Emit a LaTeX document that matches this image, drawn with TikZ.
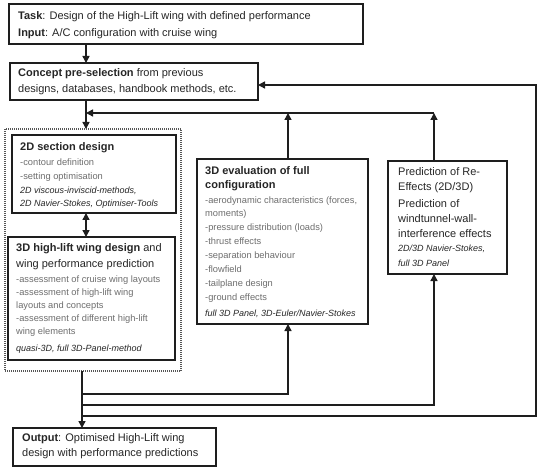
\documentclass[tikz,border=0pt]{standalone}
\usepackage{fontspec}
\setmainfont{Liberation Sans}
\usetikzlibrary{arrows.meta,calc}
\definecolor{txt}{HTML}{262626}
\definecolor{sub}{HTML}{6E6E6E}
\definecolor{lin}{HTML}{1E1E1E}
\begin{document}
\begin{tikzpicture}[x=1pt,y=-1pt,
  box/.style={draw=lin, line width=1.4pt, inner sep=0pt, outer sep=0pt, anchor=north west},
  grp/.style={draw=lin!75, line width=1.6pt, dash pattern=on 1pt off 1pt, inner sep=0pt, outer sep=0pt, anchor=north west},
  lbl/.style={anchor=base west, inner sep=0pt, align=left, text=txt},
  big/.style={lbl, font=\fontsize{11}{16}\selectfont},
  body/.style={lbl, text=sub, font=\fontsize{9.3}{14}\selectfont},
  meth/.style={lbl, font=\fontsize{9}{13}\selectfont\itshape},
  tip/.style={-{Triangle[length=7pt,width=7pt]}},
  arr/.style={line width=1.4pt, draw=lin, tip},
  dbl/.style={line width=1.4pt, draw=lin, {Triangle[length=7pt,width=7pt]}-{Triangle[length=7pt,width=7pt]}}
  ]
\useasboundingbox[fill=white] (0,0) rectangle (540,470);

% boxes
\node[box, minimum width=354pt, minimum height=40pt] (task) at (9,4) {};
\node[box, minimum width=248pt, minimum height=37pt] (concept) at (10,63) {};
\node[grp, minimum width=176pt, minimum height=242pt] (group) at (5,129) {};
\node[box, minimum width=164pt, minimum height=78pt] (sec2d) at (12,135) {};
\node[box, minimum width=167pt, minimum height=123pt] (hl3d) at (8,237) {};
\node[box, minimum width=171pt, minimum height=165pt] (eval3d) at (197,159) {};
\node[box, minimum width=119pt, minimum height=113pt] (pred) at (388,161) {};
\node[box, minimum width=203pt, minimum height=38pt] (output) at (13,428) {};

% texts (anchored at the baseline of their last line)
\node[big, font=\fontsize{11}{17}\selectfont] (task-t) at (18,37)
  {\textbf{Task}: Design of the High-Lift wing with defined performance\\\textbf{Input}: A/C configuration with cruise wing};
\node[big] (concept-t) at (18,93)
  {\textbf{Concept pre-selection} from previous\\designs, databases, handbook methods, etc.};

\node[big] (sec2d-t) at (20,151) {\textbf{2D section design}};
\node[body] (sec2d-b) at (20,180) {-contour definition\\-setting optimisation};
\node[meth, font=\fontsize{9}{12.5}\selectfont\itshape] (sec2d-m) at (20,206.5) {2D viscous-inviscid-methods,\\2D Navier-Stokes, Optimiser-Tools};

\node[big] (hl3d-t) at (16,267) {\textbf{3D high-lift wing design} and\\wing performance prediction};
\node[body, font=\fontsize{9.3}{13.1}\selectfont] (hl3d-b) at (16,334.4)
  {-assessment of cruise wing layouts\\-assessment of high-lift wing\\layouts and concepts\\-assessment of different high-lift\\wing elements};
\node[meth] (hl3d-m) at (16,351) {quasi-3D, full 3D-Panel-method};

\node[big, font=\fontsize{11}{14}\selectfont] (eval3d-t) at (205,189) {\textbf{3D evaluation of full}\\\textbf{configuration}};
\node[body, font=\fontsize{9.3}{13.9}\selectfont] (eval3d-b) at (205,300.3)
  {-aerodynamic characteristics (forces,\\moments)\\-pressure distribution (loads)\\-thrust effects\\-separation behaviour\\-flowfield\\-tailplane design\\-ground effects};
\node[meth] (eval3d-m) at (205,316) {full 3D Panel, 3D-Euler/Navier-Stokes};

\node[big, font=\fontsize{11}{14.5}\selectfont] (pred-t) at (398,190.5) {Prediction of Re-\\Effects (2D/3D)};
\node[big, font=\fontsize{11}{15}\selectfont] (pred-u) at (398,237) {Prediction of\\windtunnel-wall-\\interference effects};
\node[meth, font=\fontsize{9}{15}\selectfont\itshape] (pred-m) at (398,266) {2D/3D Navier-Stokes,\\full 3D Panel};

\node[big, font=\fontsize{11}{15}\selectfont] (output-t) at (22,456)
  {\textbf{Output}: Optimised High-Lift wing\\design with performance predictions};

% helper coordinates
\coordinate (xa) at (86,0);
\coordinate (xb) at (82,0);
\coordinate (xe) at (288,0);
\coordinate (xp) at (434,0);
\coordinate (xr) at (536,0);
\coordinate (yb) at (0,113);
\coordinate (yc) at (0,85);
\coordinate (y1) at (0,394);
\coordinate (y2) at (0,405);
\coordinate (y3) at (0,416);

% connectors
\draw[arr] (task.south -| xa) -- (concept.north -| xa);
\draw[arr] (concept.south -| xa) -- (group.north -| xa);
\draw[arr] (eval3d.north -| xe) -- (yb -| xe);
\draw[arr] (pred.north -| xp) -- (yb -| xp);
\draw[arr] (yb -| xp) -- (yb -| xa);
\draw[dbl] (sec2d.south -| xa) -- (hl3d.north -| xa);
\draw[arr] (group.south -| xb) -- (output.north -| xb);
\draw[arr] (y1 -| xb) -- (y1 -| xe) -- (eval3d.south -| xe);
\draw[arr] (y2 -| xb) -- (y2 -| xp) -- (pred.south -| xp);
\draw[arr] (y3 -| xb) -- (y3 -| xr) -- (yc -| xr) -- (concept.east |- yc);
\end{tikzpicture}
\end{document}
